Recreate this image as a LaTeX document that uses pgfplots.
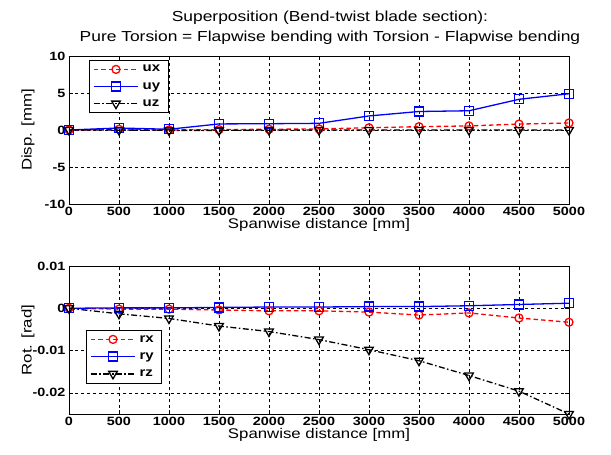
\documentclass[border=0pt]{standalone}
\usepackage{pgfplots}
\pgfplotsset{compat=1.18}
\usepackage{fontspec}
\setmainfont{Liberation Sans}
\newfontfamily\wf[FakeStretch=1.2]{Liberation Sans}
\begin{document}
\begin{tikzpicture}
\useasboundingbox (-69pt,56pt) rectangle (542pt,-399pt);
\pgfplotsset{
  myaxis/.style={
    width=500pt, height=148pt, scale only axis,
    xmin=0, xmax=5000, xtick={0,500,...,5000},
    tick align=inside, grid=major,
    major grid style={black, line width=0.5pt, dash pattern=on 3pt off 3pt},
    axis line style={black, line width=0.7pt},
    tick style={black, line width=0.7pt},
    xticklabel style={font=\wf\bfseries\fontsize{12}{13}\selectfont},
    yticklabel style={font=\wf\bfseries\fontsize{12}{13}\selectfont},
    xlabel={Spanwise distance [mm]},
    /pgf/number format/assume math mode=true,
    /pgf/number format/set thousands separator={},
    scaled ticks=false,
    legend cell align=left,
    legend style={font=\wf\bfseries\fontsize{12.5}{13}\selectfont, draw=black, line width=0.7pt, fill=white, inner xsep=4pt, inner ysep=3pt, row sep=5pt, nodes={inner xsep=4pt}},
    legend image code/.code={\draw[mark repeat=2,mark phase=2,##1] plot coordinates {(0pt,0pt) (22pt,0pt) (44pt,0pt)};},
    every axis plot/.append style={line width=1.3pt},
    xlabel style={font=\wf\fontsize{14}{16}\selectfont, yshift=5pt},
    every axis y label/.style={at={(axis description cs:-0.082,0.5)}, rotate=90, anchor=center, font=\wf\fontsize{14}{16}\selectfont},
  },
  lx/.style={red, dash pattern=on 4.5pt off 3pt, mark=o, mark size=4pt, mark options={solid}},
  ly/.style={blue, solid, mark=square, mark size=4.5pt, mark options={solid}},
  lz/.style={black, dash pattern=on 6pt off 2.5pt on 1.5pt off 2.5pt, mark=triangle, mark size=5pt, mark options={solid, rotate=180}},
}
\begin{axis}[myaxis, at={(0pt,0pt)}, anchor=north west,
  ymin=-10, ymax=10, ytick={-10,-5,0,5,10},
  ylabel={Disp. [mm]},
  legend style={at={(0.04,0.973)}, anchor=north west},
]
\addplot[lx] coordinates {(0,0) (500,0.1) (1000,0.0) (1500,0.05) (2000,0.1) (2500,0.15) (3000,0.3) (3500,0.45) (4000,0.55) (4500,0.8) (5000,0.95)};
\addplot[ly] coordinates {(0,0) (500,0.27) (1000,0.1) (1500,0.82) (2000,0.85) (2500,0.9) (3000,1.9) (3500,2.5) (4000,2.6) (4500,4.15) (5000,4.9)};
\addplot[lz] coordinates {(0,0) (500,0.0) (1000,-0.05) (1500,-0.05) (2000,0.0) (2500,0.0) (3000,0.0) (3500,0.0) (4000,0.0) (4500,0.0) (5000,0.0)};
\legend{ux,uy,uz}
\end{axis}
\begin{axis}[myaxis, at={(0pt,-210pt)}, anchor=north west,
  ymin=-0.025, ymax=0.01, ytick={-0.02,-0.01,0,0.01},
  ylabel={Rot. [rad]},
  yticklabel={\pgfmathprintnumber[fixed,precision=2]{\tick}},
  legend style={at={(0.034,0.568)}, anchor=north west},
]
\addplot[lx] coordinates {(0,0) (500,-0.0002) (1000,-0.0002) (1500,-0.0004) (2000,-0.0006) (2500,-0.0006) (3000,-0.0009) (3500,-0.0016) (4000,-0.0011) (4500,-0.0023) (5000,-0.0033)};
\addplot[ly] coordinates {(0,0) (500,0.0001) (1000,0.0001) (1500,0.0002) (2000,0.0003) (2500,0.0003) (3000,0.0004) (3500,0.0004) (4000,0.0006) (4500,0.0009) (5000,0.0012)};
\addplot[lz] coordinates {(0,0) (500,-0.0013) (1000,-0.0024) (1500,-0.0042) (2000,-0.0055) (2500,-0.0074) (3000,-0.0098) (3500,-0.0124) (4000,-0.0159) (4500,-0.0196) (5000,-0.025)};
\legend{rx,ry,rz}
\end{axis}
\node[font=\wf\fontsize{14.5}{19.5}\selectfont, align=center] at (261pt,28pt) {Superposition (Bend-twist blade section):\\Pure Torsion = Flapwise bending with Torsion - Flapwise bending};
\end{tikzpicture}
\end{document}
